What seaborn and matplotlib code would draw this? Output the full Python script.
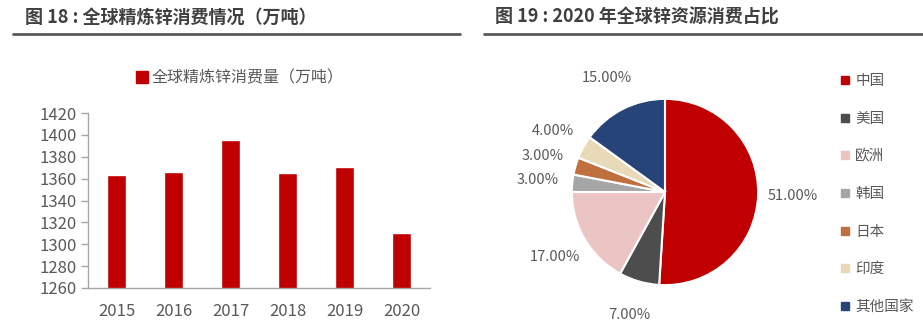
import matplotlib
matplotlib.use("Agg")
import matplotlib.pyplot as plt
from matplotlib.lines import Line2D
import seaborn as sns
import pandas as pd

sns.set_theme(style="white")
plt.rcParams["font.family"] = ["Noto Sans CJK SC", "DejaVu Sans"]
plt.rcParams["axes.unicode_minus"] = False

# Global refined zinc consumption (10k tonnes)
years = ["2015", "2016", "2017", "2018", "2019", "2020"]
consumption = [1363, 1366.5, 1395.5, 1365.5, 1370.5, 1310]
bar_label = "全球精炼锌消费量（万吨）"

# 2020 share of zinc consumption by region (%)
regions = ["中国", "美国", "欧洲", "韩国", "日本", "印度", "其他国家"]
shares = [51, 7, 17, 3, 3, 4, 15]
region_colors = ["#C00000", "#4D4D4D", "#EBC4C4", "#A6A6A6", "#C0703F", "#E8D9B8", "#264478"]

yticks = [1260, 1280, 1300, 1320, 1340, 1360, 1380, 1400, 1420]

text_color = "#595959"
W, H = 923, 322
fig = plt.figure(figsize=(W / 100, H / 100), dpi=100)

def box(x0, y0, x1, y1):
    return [x0 / W, 1 - y1 / H, (x1 - x0) / W, (y1 - y0) / H]

# Section titles with rule lines
fig.text(25 / W, 1 - 17 / H, "图 18 : 全球精炼锌消费情况（万吨）", fontsize=13,
         fontweight="bold", color="#404040", va="center", ha="left")
fig.text(495 / W, 1 - 17 / H, "图 19 : 2020 年全球锌资源消费占比", fontsize=13,
         fontweight="bold", color="#404040", va="center", ha="left")
fig.add_artist(Line2D([13 / W, 460 / W], [1 - 33.5 / H] * 2, color="#595959", lw=2))
fig.add_artist(Line2D([484 / W, 1.0], [1 - 33.5 / H] * 2, color="#595959", lw=2))

# Bar chart
ax = fig.add_axes(box(88, 113, 430, 288))
df = pd.DataFrame({"year": years, "value": consumption})
sns.barplot(data=df, x="year", y="value", color="#C00000", saturation=1,
            width=0.32, ax=ax, label=bar_label)
ax.set_ylim(1260, 1420)
ax.set_yticks(yticks)
ax.set_xlim(-0.5, len(years) - 0.5)
ax.set_xlabel("")
ax.set_ylabel("")
for s in ["top", "right"]:
    ax.spines[s].set_visible(False)
for s in ["left", "bottom"]:
    ax.spines[s].set_color("#A6A6A6")
    ax.spines[s].set_linewidth(1)
ax.tick_params(axis="y", which="major", left=True, length=5, width=1,
               color="#A6A6A6", labelsize=12, labelcolor=text_color, pad=3)
ax.tick_params(axis="x", bottom=False, labelsize=12, labelcolor=text_color, pad=5)
ax.legend(handles=[Line2D([], [], marker="s", linestyle="none", color="#C00000",
                          markersize=8)],
          labels=[bar_label], loc="center", bbox_to_anchor=(240 / W, 1 - 78 / H),
          bbox_transform=fig.transFigure, frameon=False, fontsize=11.5,
          labelcolor=text_color, handletextpad=0.2, handlelength=0.8)

# Pie chart
pax = fig.add_axes(box(570, 97, 760, 287))
wedges, texts, autotexts = pax.pie(
    shares, colors=region_colors, startangle=90, counterclock=False,
    autopct="%.2f%%", pctdistance=1.37,
    wedgeprops=dict(edgecolor="white", linewidth=1.5),
    textprops=dict(fontsize=10.5, color=text_color))
pax.set_xlim(-1.02, 1.02)
pax.set_ylim(-1.02, 1.02)
pax.set_aspect("equal")

handles = [Line2D([], [], marker="s", linestyle="none", color=c, markersize=6)
           for c in region_colors]
fig.legend(handles=handles, labels=regions, loc="upper left",
           bbox_to_anchor=(826 / W, 1 - 61 / H), frameon=False, fontsize=10.5,
           labelcolor=text_color, handletextpad=0.3, handlelength=0.8,
           labelspacing=1.62)

fig.savefig("out.png", dpi=100, facecolor="white")
